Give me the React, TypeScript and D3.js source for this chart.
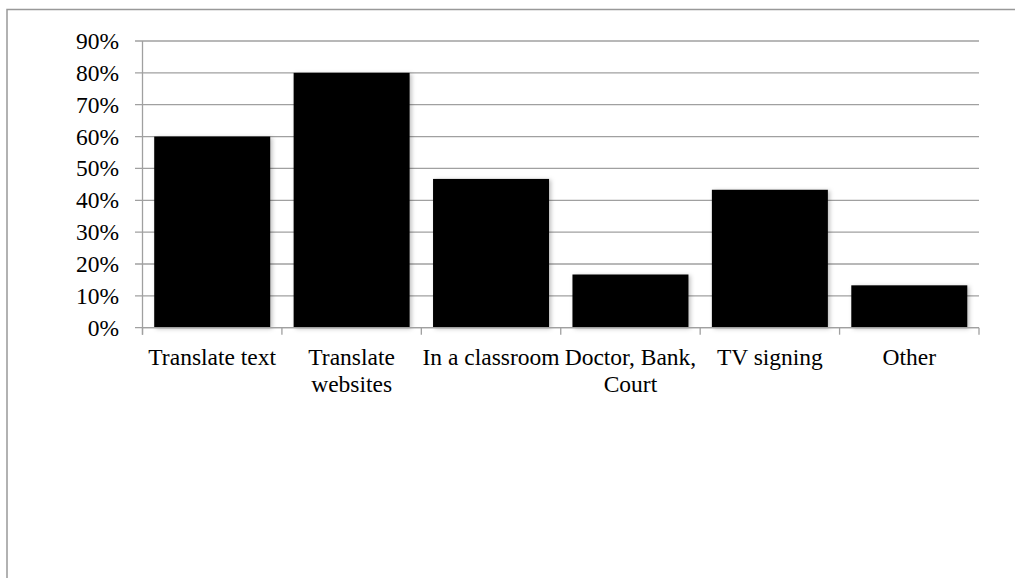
import React, { useEffect, useRef } from "react";
import * as d3 from "d3";

// survey answers, share of respondents
const categories = [
  "Translate text",
  "Translate websites",
  "In a classroom",
  "Doctor, Bank, Court",
  "TV signing",
  "Other",
];
// how each category label breaks onto lines
const labelLines = [
  ["Translate text"],
  ["Translate", "websites"],
  ["In a classroom"],
  ["Doctor, Bank,", "Court"],
  ["TV signing"],
  ["Other"],
];
const values = [0.6, 0.8, 0.467, 0.167, 0.433, 0.133];
const yTicks = [0, 0.1, 0.2, 0.3, 0.4, 0.5, 0.6, 0.7, 0.8, 0.9];

const App = () => {
  const ref = useRef<SVGSVGElement>(null);

  useEffect(() => {
    drawChart();
  }, []);

  const drawChart = () => {
    const width = 1015,
      height = 578;
    const left = 142.5,
      right = 979,
      top = 41,
      bottom = 327.7;
    const font = "'Liberation Serif', 'Times New Roman', serif";
    const fontSize = "23.5px";
    const grid = "#a0a0a0";

    const svg = d3.select(ref.current).html("");
    svg.attr("width", width).attr("height", height);

    const defs = svg.append("defs");
    defs
      .append("filter")
      .attr("id", "shadow")
      .attr("x", "-10%")
      .attr("y", "-10%")
      .attr("width", "130%")
      .attr("height", "130%")
      .append("feDropShadow")
      .attr("dx", 2)
      .attr("dy", 1)
      .attr("stdDeviation", 2)
      .attr("flood-color", "#000")
      .attr("flood-opacity", 0.25);

    // outer frame (top and left edges visible)
    svg
      .append("path")
      .attr("d", `M7,${height} V9.5 H${width}`)
      .attr("fill", "none")
      .attr("stroke", "#999")
      .attr("stroke-width", 1.5);

    const x = d3
      .scaleBand()
      .domain(categories)
      .range([left, right])
      .paddingInner(0.168)
      .paddingOuter(0.084);

    const y = d3.scaleLinear().domain([0, 0.9]).range([bottom, top]);

    // gridlines + y ticks
    const g = svg.append("g");
    g.selectAll("line.grid")
      .data(yTicks)
      .join("line")
      .attr("x1", left - 7.5)
      .attr("x2", right)
      .attr("y1", (d) => y(d))
      .attr("y2", (d) => y(d))
      .attr("stroke", grid)
      .attr("stroke-width", 1.3);

    g.selectAll("text.ytick")
      .data(yTicks)
      .join("text")
      .attr("x", 119)
      .attr("y", (d) => y(d))
      .attr("dy", "0.34em")
      .attr("text-anchor", "end")
      .style("font-family", font)
      .style("font-size", fontSize)
      .attr("fill", "#000")
      .text((d) => d3.format(".0%")(d));

    // bars
    svg
      .append("g")
      .selectAll("rect")
      .data(values)
      .join("rect")
      .attr("x", (d, i) => x(categories[i])!)
      .attr("width", x.bandwidth())
      .attr("y", (d) => y(d))
      .attr("height", (d) => y(0) - y(d))
      .attr("fill", "#000")
      .attr("filter", "url(#shadow)");

    // axes lines
    svg
      .append("line")
      .attr("x1", left)
      .attr("x2", left)
      .attr("y1", top)
      .attr("y2", bottom + 7)
      .attr("stroke", grid)
      .attr("stroke-width", 1.3);
    svg
      .append("line")
      .attr("x1", left)
      .attr("x2", right)
      .attr("y1", bottom)
      .attr("y2", bottom)
      .attr("stroke", grid)
      .attr("stroke-width", 1.3);

    const step = x.step();
    const bounds = d3.range(categories.length + 1).map((i) => left + i * step);
    svg
      .append("g")
      .selectAll("line")
      .data(bounds)
      .join("line")
      .attr("x1", (d) => d)
      .attr("x2", (d) => d)
      .attr("y1", bottom)
      .attr("y2", bottom + 7)
      .attr("stroke", grid)
      .attr("stroke-width", 1.3);

    // category labels
    const labels = svg
      .append("g")
      .selectAll("text")
      .data(categories)
      .join("text")
      .attr("x", (d) => x(d)! + x.bandwidth() / 2)
      .attr("y", 365)
      .attr("text-anchor", "middle")
      .style("font-family", font)
      .style("font-size", fontSize)
      .attr("fill", "#000");

    labels
      .selectAll("tspan")
      .data((d, i) => labelLines[i])
      .join("tspan")
      .attr("x", function () {
        return (this as any).parentNode.getAttribute("x");
      })
      .attr("dy", (d, i) => (i === 0 ? 0 : 27))
      .text((d) => d);
  };

  return (
    <div style={{ position: "absolute", left: 0, top: 0 }}>
      <svg ref={ref}></svg>
    </div>
  );
};

export default App;
